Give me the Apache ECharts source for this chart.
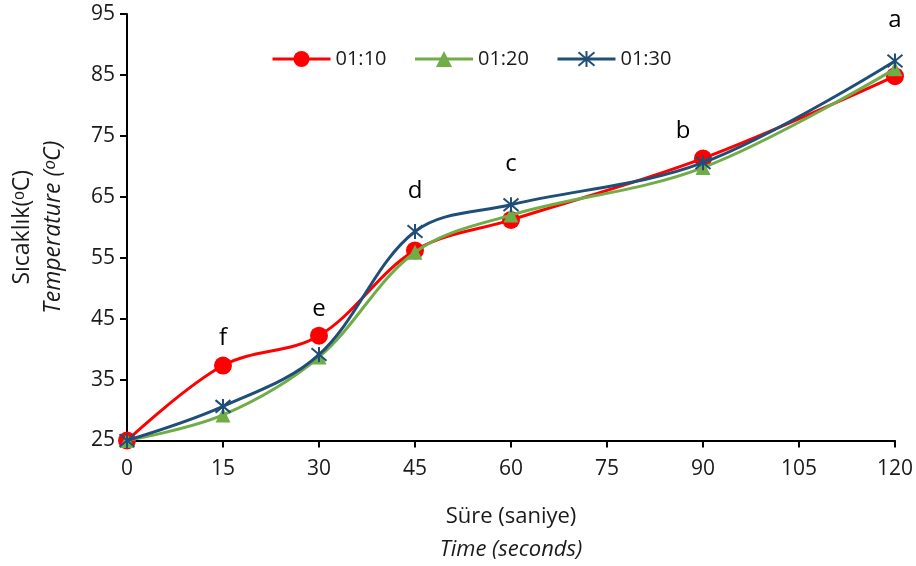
<!DOCTYPE html>
<html>
<head>
<meta charset="utf-8">
<script src="https://cdn.jsdelivr.net/npm/echarts@6/dist/echarts.min.js"></script>
<style>
  html, body { margin: 0; padding: 0; background: #fff; }
  #chart { width: 916px; height: 566px; }
</style>
</head>
<body>
<div id="chart"></div>
<script>
// time points (seconds)
const times = [0, 15, 30, 45, 60, 90, 120];
const seriesNames = ["01:10", "01:20", "01:30"];
const temp0110 = [25, 37.3, 42.2, 56.2, 61.2, 71.3, 84.8];
const temp0120 = [25, 29.2, 38.7, 55.9, 62.0, 69.8, 86.0];
const temp0130 = [25, 30.6, 39.1, 59.3, 63.7, 70.6, 87.3];
// significance letters and which series they sit on
const letters = ["", "f", "e", "d", "c", "b", "a"];
const letterOn = ["", "01:10", "01:10", "01:30", "01:30", "01:10", "01:30"];
const yTicks = [25, 35, 45, 55, 65, 75, 85, 95];

const colors = ["#ff0000", "#70ad47", "#1f4e79"];
const symbols = [
  "circle",
  "triangle",
  "path://M0,0 L10,10 M10,0 L0,10 M5,-1 L5,11",
];
const symbolSizes = [18, 15, 15];
const allValues = [temp0110, temp0120, temp0130];

const font = "'Open Sans', 'Liberation Sans', sans-serif";
const textColor = "#1a1a1a";

const myChart = echarts.init(document.getElementById("chart"), null, {
  renderer: "canvas",
});

const series = seriesNames.map((name, si) => ({
  name: name,
  type: "line",
  smooth: 0.35,
  symbol: symbols[si],
  symbolSize: symbolSizes[si],
  itemStyle: {
    color: colors[si],
    borderColor: colors[si],
    borderWidth: si === 2 ? 2 : 0,
  },
  lineStyle: { color: colors[si], width: 3 },
  z: 2 + si,
  data: times.map((t, i) => {
    const item = { value: [t, allValues[si][i]] };
    if (letterOn[i] === name) {
      item.label = {
        show: true,
        position: "top",
        distance: si === 2 ? 20 : 6,
        formatter: letters[i],
        color: "#000",
        fontSize: 24,
        fontFamily: font,
        offset: letters[i] === "b" ? [-20, 0] : [0, 0],
      };
    }
    return item;
  }),
}));

const option = {
  animation: false,
  backgroundColor: "#fff",
  textStyle: { fontFamily: font, color: textColor },
  legend: {
    data: seriesNames,
    top: 44,
    left: 266,
    itemWidth: 58,
    itemHeight: 20,
    itemGap: 27,
    lineStyle: { width: 3 },
    textStyle: { fontSize: 20, color: textColor, fontFamily: font },
  },
  grid: {
    left: 127,
    right: 21,
    top: 14,
    bottom: 125,
  },
  xAxis: {
    type: "value",
    min: 0,
    max: 120,
    interval: 15,
    name: "{n|Süre (saniye)}\n{i|Time (seconds)}",
    nameLocation: "middle",
    nameGap: 60,
    nameTextStyle: {
      rich: {
        n: { fontSize: 22, fontFamily: font, color: textColor, lineHeight: 33 },
        i: { fontSize: 22, fontFamily: font, color: textColor, fontStyle: "italic", lineHeight: 33 },
      },
    },
    axisLine: { lineStyle: { color: "#000", width: 2 } },
    axisTick: { show: true, length: 7, lineStyle: { color: "#000", width: 2 } },
    axisLabel: { fontSize: 21, color: textColor, margin: 18, fontFamily: font },
    splitLine: { show: false },
  },
  yAxis: {
    type: "value",
    min: 25,
    max: 95,
    name: "{n|Sıcaklık(ᵒC)}\n{i|Temperature (ᵒC)}",
    nameLocation: "middle",
    nameGap: 58,
    nameTextStyle: {
      rich: {
        n: { fontSize: 23, fontFamily: font, color: textColor, lineHeight: 31 },
        i: { fontSize: 23, fontFamily: font, color: textColor, fontStyle: "italic", lineHeight: 31 },
      },
    },
    axisLine: { show: true, lineStyle: { color: "#000", width: 2 } },
    axisTick: {
      show: true,
      length: 7,
      customValues: yTicks,
      lineStyle: { color: "#000", width: 2 },
    },
    axisLabel: {
      fontSize: 21,
      color: textColor,
      margin: 12,
      fontFamily: font,
      customValues: yTicks,
    },
    splitLine: { show: false },
  },
  series: series,
};

myChart.setOption(option);
</script>
</body>
</html>
